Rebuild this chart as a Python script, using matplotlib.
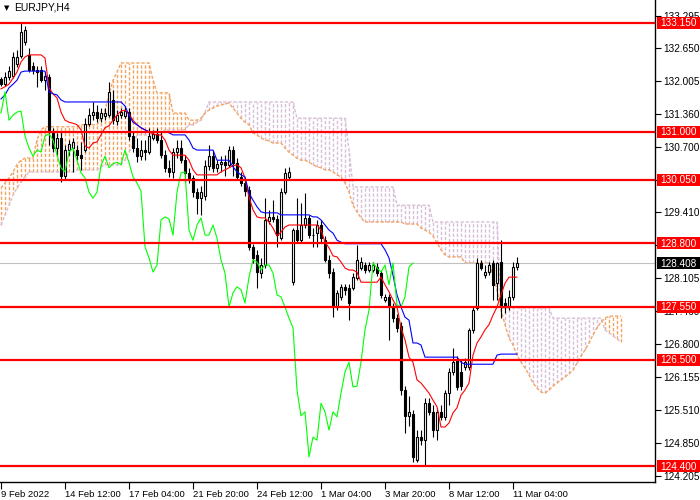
import matplotlib
matplotlib.use("Agg")
import matplotlib.pyplot as plt
from matplotlib.patches import Rectangle
import numpy as np

# ---------------- data (EURJPY H4) ----------------
opens = [132.04, 131.94, 132.08, 132.10, 132.34, 132.50, 132.77, 132.52, 132.30, 132.22,
         132.22, 132.02, 132.08, 131.00, 130.68, 130.88, 130.13, 130.64, 130.68, 130.64,
         130.54, 130.64, 131.16, 131.33, 131.39, 131.27, 131.31, 131.33, 131.63, 131.21,
         131.33, 131.31, 131.39, 130.92, 130.68, 130.52, 130.64, 130.60, 130.88, 130.96,
         130.84, 130.54, 130.29, 130.21, 130.60, 130.68, 130.44, 130.19, 130.09, 129.81,
         129.69, 129.73, 130.33, 130.52, 130.29, 130.37, 130.40, 130.35, 130.64, 130.39,
         130.11, 129.99, 129.85, 128.73, 128.57, 128.21, 128.37, 129.24, 129.32, 129.28,
         128.90, 129.81, 130.11, 128.03, 129.06, 128.86, 129.16, 129.30, 128.96, 129.00,
         129.16, 128.86, 128.47, 128.23, 127.54, 127.74, 127.94, 127.92, 127.92, 128.11,
         128.31, 128.37, 128.27, 128.27, 128.33, 128.21, 127.68, 127.74, 127.54, 127.32,
         127.17, 125.90, 125.39, 125.43, 124.52, 124.97, 124.91, 125.64, 125.47, 125.11,
         125.47, 125.37, 125.84, 126.26, 126.49, 126.26, 126.36, 126.36, 127.09, 127.52,
         128.41, 128.17, 128.23, 128.41, 128.02, 128.43, 127.62, 127.54, 127.74, 128.33]
highs = [132.08, 132.18, 132.30, 132.58, 132.62, 133.15, 133.09, 132.66, 132.38, 132.30,
         132.30, 132.18, 132.14, 131.08, 130.98, 131.00, 130.74, 130.84, 130.88, 130.74,
         130.80, 131.27, 131.47, 131.59, 131.53, 131.47, 131.47, 131.98, 131.83, 131.43,
         131.47, 131.51, 131.47, 131.00, 130.88, 130.84, 130.84, 131.08, 131.04, 131.08,
         131.00, 130.64, 130.44, 130.68, 130.84, 130.84, 130.54, 130.29, 130.15, 129.89,
         129.93, 130.44, 130.74, 130.64, 130.44, 130.52, 130.54, 130.72, 130.72, 130.48,
         130.21, 130.09, 129.93, 128.79, 128.67, 128.51, 129.69, 129.46, 129.65, 129.36,
         129.89, 130.29, 130.31, 129.10, 129.69, 129.59, 129.79, 129.36, 129.10, 129.26,
         129.26, 128.94, 128.57, 128.31, 127.88, 128.00, 128.00, 128.00, 128.21, 128.77,
         128.53, 128.43, 128.43, 128.43, 128.41, 128.27, 127.80, 127.80, 127.62, 127.40,
         127.24, 125.98, 125.78, 125.51, 125.11, 125.11, 125.74, 125.74, 125.60, 125.55,
         125.60, 125.90, 126.34, 126.73, 126.57, 126.49, 126.53, 127.13, 127.56, 128.51,
         128.47, 128.37, 128.43, 128.47, 128.43, 128.86, 127.72, 127.88, 128.43, 128.53]
lows = [131.91, 131.91, 132.02, 132.06, 132.28, 132.46, 132.72, 132.18, 132.14, 131.89,
        131.98, 131.83, 130.74, 130.60, 130.54, 130.01, 130.05, 130.54, 130.21, 130.44,
        130.25, 130.60, 131.12, 131.23, 131.19, 131.19, 131.23, 131.29, 131.16, 131.14,
        131.27, 131.27, 130.84, 130.60, 130.40, 130.44, 130.44, 130.56, 130.84, 130.78,
        130.48, 130.21, 130.11, 130.09, 130.48, 130.39, 130.01, 129.99, 129.71, 129.38,
        129.36, 129.65, 130.25, 130.21, 130.21, 130.21, 130.13, 130.31, 130.13, 130.05,
        129.93, 129.73, 128.67, 128.41, 127.92, 128.11, 128.31, 129.18, 129.22, 128.73,
        128.86, 129.77, 130.05, 127.98, 128.82, 128.82, 129.10, 128.90, 128.73, 128.73,
        128.82, 128.43, 128.11, 127.34, 127.48, 127.68, 127.78, 127.28, 127.88, 128.07,
        128.27, 128.21, 128.23, 128.23, 128.15, 127.72, 127.64, 126.89, 127.24, 127.05,
        125.80, 125.05, 125.19, 124.48, 124.48, 124.81, 124.40, 125.41, 124.97, 124.91,
        125.31, 125.31, 125.60, 126.20, 125.90, 125.90, 126.30, 126.30, 127.03, 127.48,
        128.27, 128.11, 128.17, 127.68, 127.68, 127.32, 127.42, 127.48, 127.68, 128.27]
closes = [131.94, 132.08, 132.20, 132.48, 132.48, 132.97, 133.01, 132.22, 132.22, 132.18,
          132.02, 132.10, 131.04, 130.68, 130.88, 130.13, 130.64, 130.76, 130.80, 130.54,
          130.48, 131.16, 131.33, 131.39, 131.27, 131.37, 131.37, 131.79, 131.23, 131.33,
          131.39, 131.41, 130.92, 130.68, 130.52, 130.64, 130.60, 130.92, 130.96, 130.84,
          130.54, 130.29, 130.21, 130.60, 130.68, 130.44, 130.19, 130.09, 129.81, 129.69,
          129.81, 130.33, 130.52, 130.29, 130.37, 130.40, 130.35, 130.64, 130.39, 130.11,
          129.99, 129.83, 128.73, 128.51, 128.23, 128.37, 129.26, 129.32, 129.28, 128.96,
          129.81, 130.19, 130.21, 129.06, 128.86, 129.16, 129.30, 128.96, 128.96, 129.16,
          128.90, 128.47, 128.21, 127.54, 127.82, 127.94, 127.88, 127.62, 128.13, 128.47,
          128.43, 128.27, 128.37, 128.37, 128.21, 127.78, 127.74, 127.54, 127.32, 127.13,
          125.90, 125.39, 125.47, 124.58, 124.97, 124.91, 125.64, 125.47, 125.11, 125.47,
          125.37, 125.84, 126.26, 126.45, 125.96, 125.98, 126.45, 127.09, 127.48, 128.41,
          128.31, 128.23, 128.37, 127.98, 128.41, 127.58, 127.54, 127.74, 128.33, 128.408]

tenkan = [131.85, 131.89, 131.94, 132.06, 132.18, 132.38, 132.48, 132.52, 132.52, 132.52,
          132.52, 132.46, 131.87, 131.75, 131.67, 131.39, 131.23, 131.19, 131.17, 131.14,
          131.04, 130.72, 130.68, 130.78, 130.80, 130.94, 131.08, 131.12, 131.23, 131.33,
          131.41, 131.43, 131.35, 131.23, 131.14, 131.08, 131.04, 131.00, 130.96, 130.94,
          130.94, 130.84, 130.64, 130.54, 130.54, 130.54, 130.54, 130.44, 130.25, 130.15,
          130.15, 130.15, 130.15, 130.15, 130.15, 130.21, 130.25, 130.29, 130.33, 130.35,
          130.29, 130.09, 129.71, 129.46, 129.32, 129.30, 129.30, 129.22, 129.10, 128.94,
          129.02, 129.12, 129.16, 129.16, 129.16, 129.16, 129.16, 129.16, 129.16, 129.16,
          129.06, 128.82, 128.71, 128.55, 128.53, 128.43, 128.31, 128.27, 128.27, 128.23,
          128.03, 128.03, 128.03, 128.03, 128.03, 128.13, 127.98, 127.84, 127.68, 127.54,
          127.13, 126.89, 126.55, 126.45, 126.10, 126.04, 125.94, 125.84, 125.70, 125.57,
          125.17, 125.17, 125.25, 125.45, 125.55, 125.80, 125.90, 126.04, 126.59, 126.83,
          126.95, 127.09, 127.19, 127.38, 127.54, 127.78, 128.01, 128.13, 128.13, 128.13]
kijun = [131.65, 131.73, 131.87, 131.94, 132.02, 132.18, 132.20, 132.20, 132.20, 132.20,
         132.20, 132.20, 131.79, 131.75, 131.73, 131.63, 131.59, 131.59, 131.59, 131.59,
         131.59, 131.59, 131.59, 131.59, 131.59, 131.59, 131.59, 131.59, 131.59, 131.59,
         131.59, 131.51, 131.33, 131.19, 131.14, 131.08, 131.04, 131.00, 131.00, 131.00,
         131.00, 131.00, 130.98, 130.94, 130.94, 130.94, 130.94, 130.84, 130.68, 130.64,
         130.64, 130.64, 130.64, 130.64, 130.44, 130.44, 130.44, 130.44, 130.31, 130.21,
         130.15, 130.11, 129.79, 129.65, 129.52, 129.42, 129.40, 129.40, 129.40, 129.40,
         129.36, 129.36, 129.36, 129.36, 129.36, 129.36, 129.36, 129.36, 129.32, 129.32,
         129.26, 129.16, 129.06, 129.00, 128.86, 128.82, 128.79, 128.79, 128.79, 128.79,
         128.79, 128.79, 128.79, 128.79, 128.79, 128.79, 128.67, 128.51, 128.17, 127.78,
         127.54, 127.34, 127.28, 126.83, 126.83, 126.79, 126.55, 126.55, 126.55, 126.55,
         126.55, 126.55, 126.55, 126.55, 126.55, 126.45, 126.41, 126.41, 126.41, 126.41,
         126.41, 126.41, 126.41, 126.41, 126.59, 126.61, 126.61, 126.61, 126.61, 126.61]

span_a = [129.89, 129.99, 130.09, 130.21, 130.35, 130.44, 130.48, 130.48, 130.48, 130.84,
          131.04, 131.10, 131.10, 131.10, 131.10, 131.10, 131.10, 131.10, 131.10, 131.10,
          131.14, 131.14, 131.14, 131.14, 131.14, 131.27, 131.43, 131.73, 132.02, 132.18,
          132.36, 132.36, 132.36, 132.36, 132.36, 132.36, 132.36, 132.36, 132.02, 131.77,
          131.77, 131.77, 131.77, 131.37, 131.37, 131.37, 131.37, 131.23, 131.23, 131.23,
          131.27, 131.37, 131.43, 131.47, 131.51, 131.53, 131.55, 131.57, 131.47, 131.37,
          131.27, 131.19, 131.14, 130.98, 130.94, 130.88, 130.84, 130.82, 130.78, 130.78,
          130.78, 130.68, 130.60, 130.54, 130.48, 130.44, 130.44, 130.40, 130.35, 130.31,
          130.29, 130.25, 130.25, 130.21, 130.15, 130.11, 129.99, 129.81, 129.55, 129.42,
          129.30, 129.22, 129.22, 129.22, 129.22, 129.22, 129.22, 129.22, 129.22, 129.22,
          129.22, 129.18, 129.18, 129.18, 129.18, 129.10, 129.06, 129.02, 128.94, 128.81,
          128.67, 128.57, 128.53, 128.53, 128.53, 128.53, 128.41, 128.41, 128.41, 128.41,
          128.41, 128.41, 128.41, 128.17, 127.88, 127.48, 127.19, 126.93, 126.79, 126.59,
          126.45, 126.34, 126.20, 126.04, 125.94, 125.86, 125.84, 125.90, 125.98, 126.04,
          126.10, 126.16, 126.22, 126.30, 126.43, 126.57, 126.69, 126.83, 126.99, 127.13,
          127.24, 127.32, 127.36, 127.36, 127.36, 127.36]
span_b = [129.16, 129.36, 129.55, 129.75, 129.89, 130.01, 130.11, 130.21, 130.21, 130.21,
          130.21, 130.21, 130.21, 130.21, 130.21, 130.21, 130.21, 130.21, 130.21, 130.25,
          130.25, 130.25, 130.25, 130.25, 130.25, 130.31, 130.35, 130.35, 130.35, 130.35,
          130.35, 130.44, 130.60, 130.74, 130.94, 130.94, 130.94, 130.94, 130.94, 130.94,
          130.94, 131.04, 131.04, 131.04, 131.04, 131.04, 131.04, 131.14, 131.14, 131.19,
          131.23, 131.39, 131.59, 131.59, 131.59, 131.59, 131.59, 131.59, 131.59, 131.59,
          131.59, 131.59, 131.59, 131.59, 131.59, 131.59, 131.59, 131.59, 131.59, 131.59,
          131.59, 131.59, 131.59, 131.59, 131.27, 131.27, 131.27, 131.27, 131.27, 131.27,
          131.27, 131.27, 131.27, 131.27, 131.27, 131.27, 131.27, 130.64, 129.91, 129.91,
          129.91, 129.91, 129.91, 129.91, 129.91, 129.91, 129.91, 129.91, 129.91, 129.55,
          129.55, 129.55, 129.55, 129.55, 129.55, 129.55, 129.55, 129.55, 129.22, 129.22,
          129.22, 129.22, 129.22, 129.22, 129.22, 129.22, 129.22, 129.22, 129.22, 129.22,
          129.22, 129.22, 129.22, 129.22, 129.22, 127.52, 127.52, 127.52, 127.52, 127.52,
          127.52, 127.52, 127.52, 127.52, 127.52, 127.52, 127.52, 127.52, 127.32, 127.32,
          127.32, 127.32, 127.32, 127.32, 127.32, 127.32, 127.32, 127.32, 127.32, 127.32,
          127.32, 127.09, 127.03, 126.97, 126.91, 126.85]

chikou_shift = 26
levels = [133.150, 131.000, 130.050, 128.800, 127.550, 126.500, 124.400]
last_price = 128.408
ytick_values = [133.295, 132.650, 132.005, 131.360, 130.700, 130.050, 129.410, 128.765,
                128.105, 127.460, 126.800, 126.155, 125.510, 124.850, 124.205]
xtick_bars = [0, 16, 32, 48, 64, 80, 96, 112, 128]
xtick_labels = ["9 Feb 2022", "14 Feb 12:00", "17 Feb 04:00", "21 Feb 20:00",
                "24 Feb 12:00", "1 Mar 04:00", "3 Mar 20:00", "8 Mar 12:00", "11 Mar 04:00"]
symbol = "EURJPY,H4"

# ---------------- figure ----------------
plt.rcParams['font.family'] = ['Liberation Sans', 'DejaVu Sans']
fig = plt.figure(figsize=(7, 5), dpi=100)
AX_W_PX, AX_H_PX = 655, 482
ax = fig.add_axes([0, 18 / 500, AX_W_PX / 700, AX_H_PX / 500])
ax.set_xlim(-0.25, 163.5)
ax.set_ylim(124.084, 133.604)
px_y = (133.604 - 124.084) / AX_H_PX   # price per pixel

SANDY = '#F4A460'
THISTLE = '#D8BFD8'
dash = (0, (2.4, 1.3))

# Ichimoku cloud hatch
ci = np.arange(len(span_a))
sa = np.array(span_a)
sb = np.array(span_b)
cols = [SANDY if a >= b else THISTLE for a, b in zip(sa, sb)]
ax.vlines(ci, np.minimum(sa, sb), np.maximum(sa, sb), colors=cols,
          linestyles=[dash], linewidth=1.0, zorder=1)
ax.plot(ci, sa, color=SANDY, lw=1.0, ls=dash, zorder=1.2)
ax.plot(ci, sb, color=THISTLE, lw=1.0, ls=dash, zorder=1.1)

# last price line
ax.axhline(last_price, color='#C0C0C0', lw=0.8, zorder=1.5)

# candles
o = np.array(opens); h = np.array(highs); l = np.array(lows); c = np.array(closes)
bi = np.arange(len(o))
ax.vlines(bi, l, h, colors='black', linewidth=0.8, zorder=2)
up = c >= o
ax.bar(bi[up], (c - o)[up], bottom=o[up], width=0.55, color='white',
       edgecolor='black', linewidth=0.8, zorder=2.1)
ax.bar(bi[~up], (o - c)[~up], bottom=c[~up], width=0.55, color='black',
       edgecolor='black', linewidth=0.8, zorder=2.1)

# Ichimoku lines
ax.plot(bi, tenkan, color='#FF0000', lw=0.8, zorder=3)
ax.plot(bi, kijun, color='#0000FF', lw=0.8, zorder=3)
ax.plot(bi[:len(c) - chikou_shift], c[chikou_shift:], color='#00FF00', lw=0.8, zorder=3)

# horizontal levels
for lv in levels:
    ax.axhline(lv, color='#FF0000', lw=1.6, zorder=4)

# axes styling
for s in ['top', 'left']:
    ax.spines[s].set_visible(False)
for s in ['right', 'bottom']:
    ax.spines[s].set_color('black')
    ax.spines[s].set_linewidth(1.0)
ax.yaxis.tick_right()
ax.set_yticks(ytick_values)
ax.set_yticklabels([f"{v:.3f}" for v in ytick_values])
ax.tick_params(axis='y', right=True, left=False, labelright=True, labelleft=False,
               length=4, width=0.8, pad=2, labelsize=7.2, colors='black')
ax.set_xticks(xtick_bars)
ax.set_xticklabels(xtick_labels)
ax.tick_params(axis='x', length=5, width=0.8, pad=0.5, labelsize=6.8, colors='black')
for lab in ax.get_xticklabels():
    lab.set_ha('left')

# price labels on the right
ytr = ax.get_yaxis_transform()
box_x0 = 1 + 2 / AX_W_PX
box_w = 43 / AX_W_PX
box_h = 12 * px_y
for lv, fc in [(v, '#FF0000') for v in levels] + [(last_price, 'black')]:
    ax.add_patch(Rectangle((box_x0, lv - box_h / 2), box_w, box_h, transform=ytr,
                           facecolor=fc, edgecolor='none', clip_on=False, zorder=9))
    ax.text(box_x0 + box_w / 2, lv - 0.5 * px_y, f"{lv:.3f}", transform=ytr,
            ha='center', va='center', color='white', fontsize=7.2,
            clip_on=False, zorder=10)

# title
fig.text(4 / 700, 1 - 8 / 500, "\u25BC", fontsize=5, va='center', ha='left',
         family='DejaVu Sans')
fig.text(14 / 700, 1 - 8 / 500, symbol, fontsize=7.5, va='center', ha='left')

fig.savefig("out.png", dpi=100)
